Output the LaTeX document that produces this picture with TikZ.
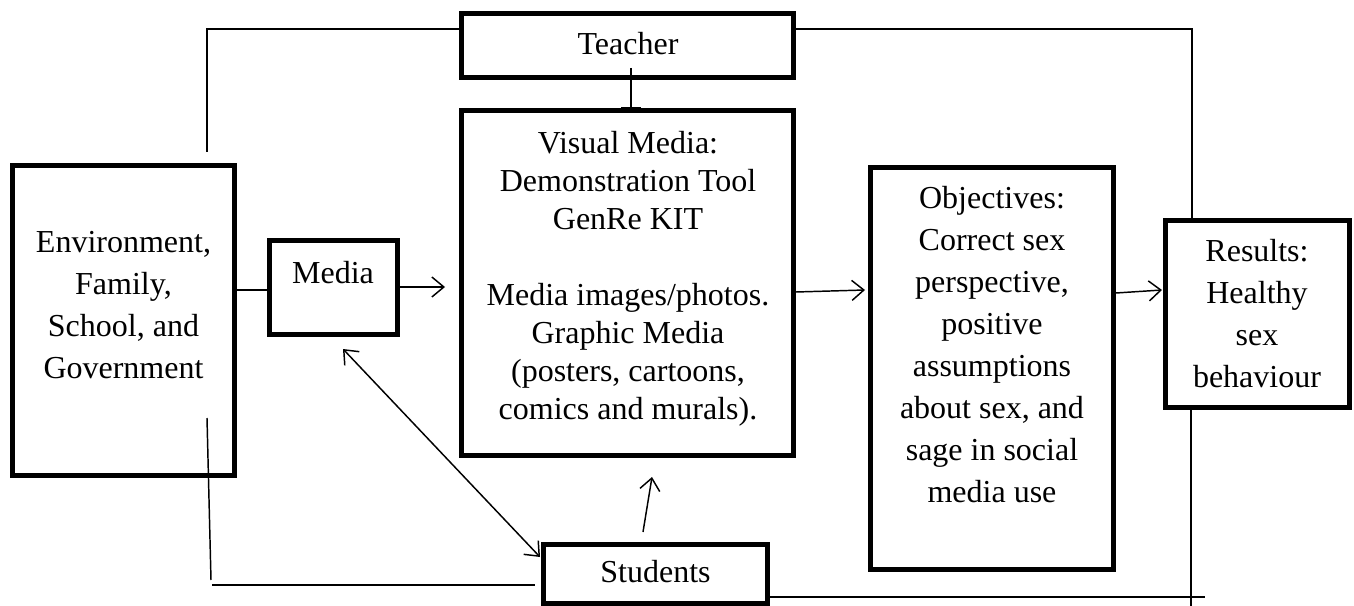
\documentclass[tikz,border=0pt]{standalone}
\usepackage{fontspec}
\setmainfont{Liberation Serif}
\usetikzlibrary{arrows.meta,fit}
\begin{document}
\begin{tikzpicture}[x=0.75pt,y=-0.75pt,
  box/.style={draw,line width=3.6pt,inner sep=0pt,rectangle},
  txt/.style={align=center,inner sep=0pt,font=\fontsize{24pt}{31.5pt}\selectfont},
  conn/.style={line width=1.1pt},
  arr/.style={line width=1.1pt,-{Straight Barb[length=9pt,width=15pt,line width=1.1pt]}},
  darr/.style={line width=1.1pt,{Straight Barb[length=9pt,width=15pt,line width=1.1pt]}-{Straight Barb[length=9pt,width=15pt,line width=1.1pt]}}]
\useasboundingbox (0,0) rectangle (1354,606);
% boxes
\node[box,fit={(12.5,165.5) (234.5,475.5)}] (env) {};
\node[box,fit={(461.5,13.5) (793.5,77.5)}] (teacher) {};
\node[box,fit={(461.5,110.5) (793.5,455.5)}] (visual) {};
\node[box,fit={(269.5,240.5) (397.5,334.5)}] (media) {};
\node[box,fit={(870.5,167.5) (1113.5,569.5)}] (obj) {};
\node[box,fit={(1165.5,220.5) (1349.5,407.5)}] (res) {};
\node[box,fit={(543.5,544.5) (767.5,603.5)}] (stud) {};
% texts
\node[txt] (envT) at (123.5,305) {Environment,\\Family,\\School, and\\Government};
\node[txt] (mediaT) at (333,273) {Media};
\node[txt] (teacherT) at (628,44) {Teacher};
\node[txt,font=\fontsize{24pt}{28.5pt}\selectfont] (visualT) at (628,279) {Visual Media:\\Demonstration Tool\\GenRe KIT\\[28.5pt]Media images/photos.\\Graphic Media\\(posters, cartoons,\\comics and murals).};
\node[txt] (objT) at (992,344.5) {Objectives:\\Correct sex\\perspective,\\positive\\assumptions\\about sex, and\\sage in social\\media use};
\node[txt] (resT) at (1257,313.5) {Results:\\Healthy\\sex\\behaviour};
\node[txt] (studT) at (655.5,572) {Students};
% free-end coordinates
\coordinate (tlA) at (207,152);
\coordinate (trB) at (1192,29);
\coordinate (mvTip) at (445,287);
\coordinate (voTip) at (865,290);
\coordinate (orTip) at (1162,290);
\coordinate (msA) at (343,349);
\coordinate (msB) at (540,557);
\coordinate (svA) at (643,532);
\coordinate (svB) at (652,477);
\coordinate (blA) at (207,418);
\coordinate (blB) at (211,580);
\coordinate (blC) at (212,585);
\coordinate (blD) at (535,585);
\coordinate (brB) at (1205,597);
\coordinate (brC) at (1191,410);
\coordinate (brD) at (1191,606);
\coordinate (tvA) at (631,68);
% connectors
\draw[conn] (tlA) -- (207,29) -- (teacher.west |- 0,29);
\draw[conn] (teacher.east |- 0,29) -- (trB) -- (res.north -| trB);
\draw[line width=1.1pt,-{Bar[width=15pt,line width=1.1pt]}] (tvA) -- (visual.north -| tvA);
\draw[conn] (env.east |- 0,290) -- (media.west |- 0,290);
\draw[arr] (media.east |- 0,287) -- (mvTip);
\draw[arr] (visual.east |- 0,292) -- (voTip);
\draw[arr] (obj.east |- 0,293) -- (orTip);
\draw[darr] (msA) -- (msB);
\draw[arr] (svA) -- (svB);
\draw[conn] (blA) -- (blB);
\draw[conn] (blC) -- (blD);
\draw[conn] (stud.east |- 0,597) -- (brB);
\draw[conn] (brC) -- (brD);
\end{tikzpicture}
\end{document}
